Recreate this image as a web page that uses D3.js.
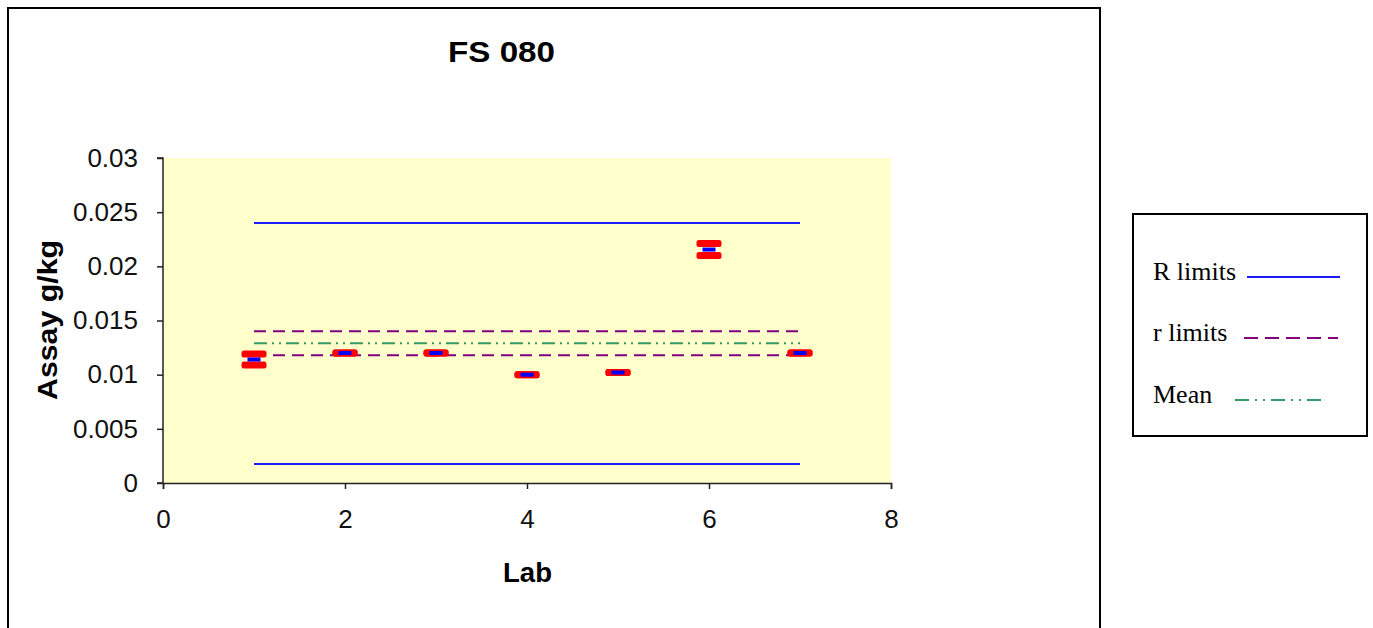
<!DOCTYPE html>
<html>
<head>
<meta charset="utf-8">
<script src="https://cdn.jsdelivr.net/npm/d3@7"></script>
<style>
  body { margin: 0; background: white; }
  svg { display: block; }
</style>
</head>
<body>
<div id="container"></div>
<script>
/* DATA */
const labs = [1, 2, 3, 4, 5, 6, 7]
const rep1 = [0.0119, 0.012, 0.012, 0.010, 0.0102, 0.0221, 0.012]
const rep2 = [0.0109, 0.012, 0.012, 0.010, 0.0102, 0.0210, 0.012]
const labMeans = [0.0114, 0.012, 0.012, 0.010, 0.0102, 0.02155, 0.012]
const limitX = [1, 7]
const RLimits = [0.0240, 0.00175]
const rLimits = [0.0140, 0.0118]
const grandMean = 0.0129
const yTicks = [0, 0.005, 0.01, 0.015, 0.02, 0.025, 0.03]
const xTicks = [0, 2, 4, 6, 8]

/* CONSTANTS */
const width = 1373, height = 628
const plot = { left: 163, right: 891, top: 158, bottom: 483 }
const sans = "Liberation Sans, Arial, sans-serif"

const svg = d3.select("#container")
  .append("svg")
  .attr("width", width)
  .attr("height", height)

// outer chart frame
svg.append("rect")
  .attr("x", 8).attr("y", 8)
  .attr("width", 1092).attr("height", 640)
  .attr("fill", "white")
  .attr("stroke", "black")
  .attr("stroke-width", 2)

// SCALES
const xScale = d3.scaleLinear().domain([0, 8]).range([plot.left, plot.right])
const yScale = d3.scaleLinear().domain([0, 0.03]).range([plot.bottom, plot.top])

// plot area background
svg.append("rect")
  .attr("x", plot.left).attr("y", plot.top)
  .attr("width", plot.right - plot.left)
  .attr("height", plot.bottom - plot.top)
  .attr("fill", "#ffffcc")

// AXES
const yAxisGroup = svg.append("g")
  .attr("transform", `translate(${plot.left}, 0)`)
  .call(d3.axisLeft(yScale).tickValues(yTicks).tickFormat(d => String(+d.toFixed(3))).tickSize(6).tickPadding(19))
const xAxisGroup = svg.append("g")
  .attr("transform", `translate(0, ${plot.bottom})`)
  .call(d3.axisBottom(xScale).tickValues(xTicks).tickSize(6).tickPadding(21))

svg.selectAll(".domain, .tick line")
  .attr("stroke", "#222")
  .attr("stroke-width", 1.5)
svg.selectAll(".tick text")
  .attr("font-family", sans)
  .attr("font-size", 26)
  .attr("fill", "#111")
yAxisGroup.selectAll(".domain").attr("d", `M-6,${plot.top}H0V${plot.bottom}H-6`)

// LIMIT LINES
const lineGen = d3.line()
  .x(d => xScale(d[0]))
  .y(d => yScale(d[1]))

RLimits.forEach(v => {
  svg.append("path")
    .datum(limitX.map(x => [x, v]))
    .attr("d", lineGen)
    .attr("stroke", "#1a1aff")
    .attr("stroke-width", 2)
    .attr("fill", "none")
})
rLimits.forEach(v => {
  svg.append("path")
    .datum(limitX.map(x => [x, v]))
    .attr("d", lineGen)
    .attr("stroke", "#800080")
    .attr("stroke-width", 2)
    .attr("stroke-dasharray", "12,7")
    .attr("fill", "none")
})
svg.append("path")
  .datum(limitX.map(x => [x, grandMean]))
  .attr("d", lineGen)
  .attr("stroke", "#339966")
  .attr("stroke-width", 2)
  .attr("stroke-dasharray", "13,5,2,5,2,5")
  .attr("fill", "none")

// REPLICATE MARKERS (red dashes)
const reps = labs.flatMap((lab, i) => [[lab, rep1[i]], [lab, rep2[i]]])
svg.selectAll(".rep")
  .data(reps)
  .join("rect")
  .attr("class", "rep")
  .attr("x", d => xScale(d[0]) - 12.5)
  .attr("y", d => yScale(d[1]) - 3.5)
  .attr("width", 25)
  .attr("height", 7)
  .attr("rx", 2.5)
  .attr("fill", "#ff0000")

// LAB MEAN MARKERS (blue dashes)
svg.selectAll(".labmean")
  .data(labs.map((lab, i) => [lab, labMeans[i]]))
  .join("rect")
  .attr("class", "labmean")
  .attr("x", d => xScale(d[0]) - 6.5)
  .attr("y", d => yScale(d[1]) - 2)
  .attr("width", 13)
  .attr("height", 4)
  .attr("fill", "#0000ff")

// TITLE AND AXIS LABELS
svg.append("text")
  .attr("x", 448).attr("y", 62)
  .attr("font-family", sans)
  .attr("font-weight", "bold")
  .attr("font-size", 29)
  .attr("textLength", 107)
  .attr("lengthAdjust", "spacingAndGlyphs")
  .text("FS 080")

svg.append("text")
  .attr("transform", `translate(57, 400) rotate(-90)`)
  .attr("font-family", sans)
  .attr("font-weight", "bold")
  .attr("font-size", 27)
  .attr("textLength", 160)
  .attr("lengthAdjust", "spacingAndGlyphs")
  .text("Assay g/kg")

svg.append("text")
  .attr("x", 503).attr("y", 582)
  .attr("font-family", sans)
  .attr("font-weight", "bold")
  .attr("font-size", 27)
  .attr("textLength", 49)
  .attr("lengthAdjust", "spacingAndGlyphs")
  .text("Lab")

// LEGEND
const legend = svg.append("g")
legend.append("rect")
  .attr("x", 1133).attr("y", 214)
  .attr("width", 234).attr("height", 222)
  .attr("fill", "white")
  .attr("stroke", "black")
  .attr("stroke-width", 2)

const legendItems = [
  { label: "R limits", color: "#1a1aff", dash: null, y: 277, x1: 1247, x2: 1340 },
  { label: "r limits", color: "#800080", dash: "14,7", y: 338, x1: 1244, x2: 1338 },
  { label: "Mean", color: "#339966", dash: "14,6,2,6,2,6", y: 400, x1: 1235, x2: 1327 }
]
legendItems.forEach(it => {
  legend.append("text")
    .attr("x", 1153).attr("y", it.y + 3)
    .attr("font-family", "Liberation Serif, Times New Roman, serif")
    .attr("font-size", 26)
    .text(it.label)
  legend.append("line")
    .attr("x1", it.x1).attr("x2", it.x2)
    .attr("y1", it.y).attr("y2", it.y)
    .attr("stroke", it.color)
    .attr("stroke-width", 2)
    .attr("stroke-dasharray", it.dash)
})
</script>
</body>
</html>
